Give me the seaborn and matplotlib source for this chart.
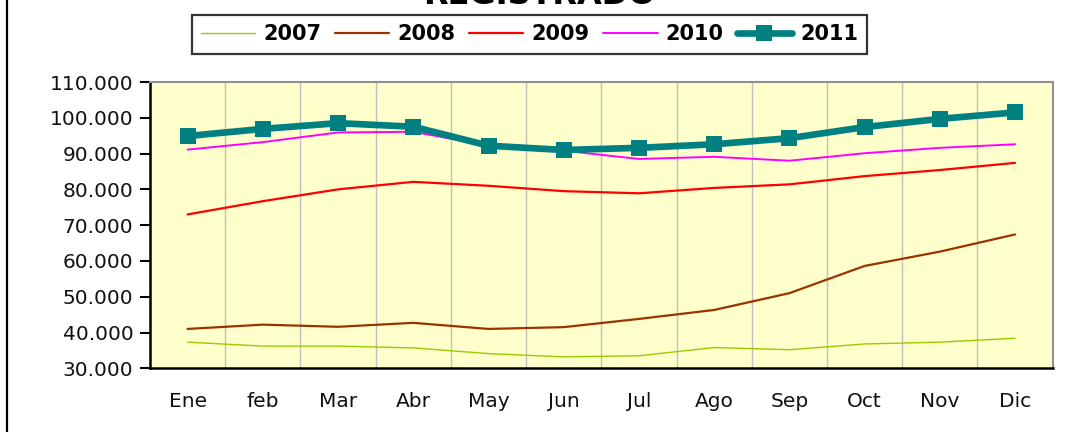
import numpy as np
import pandas as pd
import matplotlib
matplotlib.use("Agg")
import matplotlib.pyplot as plt
from matplotlib.ticker import FuncFormatter, FixedLocator
from matplotlib.lines import Line2D
import seaborn as sns

months = ["Ene", "feb", "Mar", "Abr", "May", "Jun", "Jul", "Ago", "Sep", "Oct", "Nov", "Dic"]
v2007 = [37300, 36200, 36200, 35700, 34100, 33200, 33500, 35800, 35200, 36800, 37300, 38400]
v2008 = [41000, 42200, 41600, 42700, 41000, 41500, 43800, 46300, 51000, 58600, 62600, 67400]
v2009 = [73000, 76700, 80000, 82100, 81000, 79500, 78900, 80400, 81400, 83700, 85400, 87400]
v2010 = [91100, 93200, 95900, 96100, 92200, 90800, 88500, 89100, 88000, 90100, 91600, 92600]
v2011 = [94900, 96900, 98500, 97500, 92200, 91000, 91600, 92600, 94300, 97400, 99700, 101500]
years = ["2007", "2008", "2009", "2010", "2011"]
title_text = "REGISTRADO"

series = [v2007, v2008, v2009, v2010, v2011]
df = pd.DataFrame({
    "mes": np.tile(np.arange(len(months)), len(years)),
    "valor": np.concatenate(series),
    "year": np.repeat(years, len(months)),
})

colors = {"2007": "#99CC00", "2008": "#993300", "2009": "#FF0000",
          "2010": "#FF00FF", "2011": "#008080"}
widths = {"2007": 1.0, "2008": 1.6, "2009": 1.6, "2010": 1.4, "2011": 4.8}

sns.set_theme(style="white")
plt.rcParams["font.family"] = ["DejaVu Sans"]
plt.rcParams["text.color"] = "black"

fig = plt.figure(figsize=(10.66, 4.32), dpi=100)
ax = fig.add_axes([150 / 1066, 1 - 368.3 / 432, (1052.7 - 150) / 1066, (368.3 - 82) / 432])
ax.set_facecolor("#FFFFCC")

for y in years:
    sub = df[df["year"] == y]
    if y == "2011":
        sns.lineplot(data=sub, x="mes", y="valor", ax=ax, color=colors[y],
                     linewidth=widths[y], marker="s", markersize=12,
                     markeredgewidth=0, label=y, zorder=5)
    else:
        sns.lineplot(data=sub, x="mes", y="valor", ax=ax, color=colors[y],
                     linewidth=widths[y], label=y, zorder=3)

ax.set_xlim(-0.5, len(months) - 0.5)
ax.set_ylim(30000, 110000)
ax.set_yticks(np.arange(30000, 110001, 10000))
ax.yaxis.set_major_formatter(FuncFormatter(lambda v, p: f"{int(v):,}".replace(",", ".")))
ax.set_xticks(np.arange(len(months)))
ax.set_xticklabels(months)
ax.xaxis.set_minor_locator(FixedLocator(np.arange(0.5, len(months) - 1, 1.0)))
ax.grid(False)
ax.grid(True, which="minor", axis="x", color="#C0C0C0", linewidth=1.0)
ax.set_xlabel("")
ax.set_ylabel("")

ax.tick_params(axis="y", which="major", length=7, width=1.5, color="black",
               labelsize=14.5, pad=5, left=True, labelcolor="#111111")
ax.tick_params(axis="x", which="both", length=0, labelsize=14.5, pad=17, labelcolor="#111111")

for side in ["left", "bottom"]:
    ax.spines[side].set_color("black")
    ax.spines[side].set_linewidth(1.8)
for side in ["top", "right"]:
    ax.spines[side].set_color("#909090")
    ax.spines[side].set_linewidth(1.5)
    ax.spines[side].set_visible(True)

if ax.get_legend():
    ax.get_legend().remove()
handles, labels = ax.get_legend_handles_labels()
leg = fig.legend(handles, labels, loc="center", bbox_to_anchor=(529.5 / 1066, 1 - 34.5 / 432),
                 ncol=5, frameon=True, fancybox=False, handlelength=2.6,
                 handletextpad=0.4, columnspacing=0.65, borderpad=0.45,
                 prop={"weight": "bold", "size": 15})
leg.get_frame().set_edgecolor("black")
leg.get_frame().set_linewidth(1.6)
leg.get_frame().set_facecolor("white")
for t in leg.get_texts():
    t.set_color("black")
for h in leg.legend_handles:
    if isinstance(h, Line2D):
        h.set_solid_capstyle("round")

fig.text(539.5 / 1066, 1 - 3.5 / 432, title_text, ha="center", va="baseline",
         fontsize=23, fontweight="bold", color="black")

fig.add_artist(Line2D([6.5 / 1066, 6.5 / 1066], [0, 1], transform=fig.transFigure,
                      color="black", linewidth=1.6))

fig.savefig("out.png", dpi=100, facecolor="white")
